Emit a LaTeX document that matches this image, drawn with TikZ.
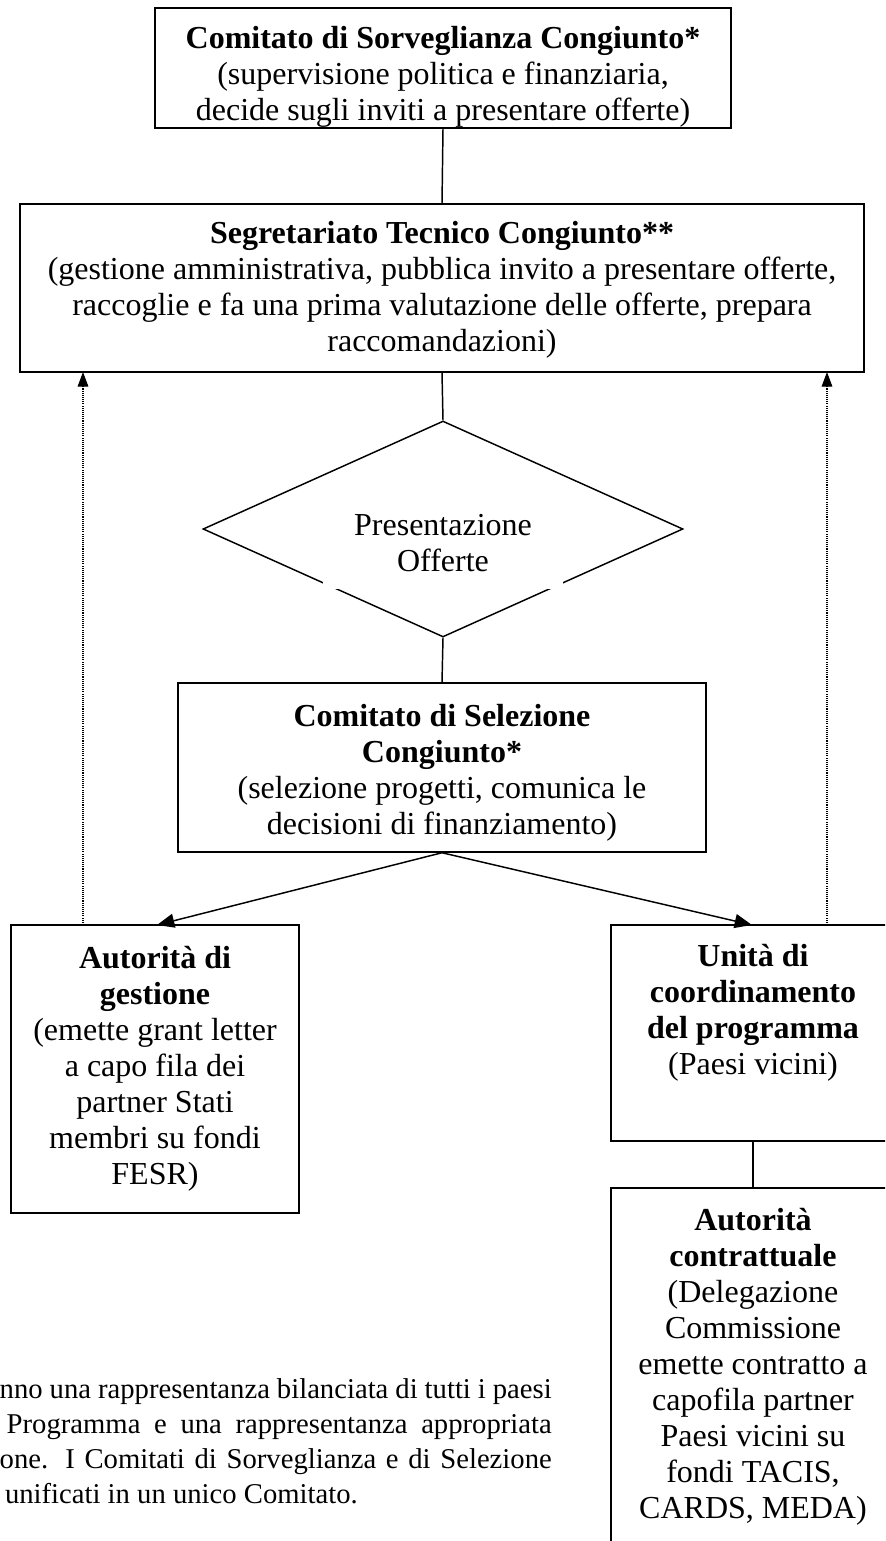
\documentclass[tikz,border=0pt]{standalone}
\usepackage{fontspec}
\setmainfont{Liberation Serif}
\usetikzlibrary{arrows.meta,shapes.geometric}
\begin{document}
\begin{tikzpicture}[x=0.75pt,y=-0.75pt,
  box/.style={draw,line width=1.1pt,rectangle,inner sep=0pt},
  lbl/.style={align=center,inner sep=0pt,font=\fontsize{24}{27}\selectfont},
  conn/.style={line width=1.1pt},
  arr/.style={conn,-{Triangle[length=13pt,width=10.5pt]}},
  dots/.style={line width=0.8pt,dash pattern=on 0.8pt off 0.8pt,-{Triangle[length=11pt,width=8pt]}}]
\useasboundingbox (0,0) rectangle (885,1541);
\clip (0,0) rectangle (885,1541);

% boxes
\node[box,minimum width=432pt,minimum height=90pt] (csc) at (443,68) {};
\node[lbl] (csct) at (443,77) {\textbf{Comitato di Sorveglianza Congiunto*}\\(supervisione politica e finanziaria,\\decide sugli inviti a presentare offerte)};

\node[box,minimum width=633pt,minimum height=126pt] (stc) at (442,288) {};
\node[lbl] (stct) at (442,290) {\textbf{Segretariato Tecnico Congiunto**}\\(gestione amministrativa, pubblica invito a presentare offerte,\\raccoglie e fa una prima valutazione delle offerte, prepara\\raccomandazioni)};

\node[draw,line width=1.1pt,diamond,shape aspect=2.2,minimum width=360pt,minimum height=162pt,inner sep=0pt] (po) at (443,529) {};
\node[lbl] (pot) at (443,543) {Presentazione\\Offerte};
\fill[white] (323,582) rectangle (563,589);

\node[box,minimum width=396pt,minimum height=126.75pt] (cse) at (442,767.5) {};
\node[lbl] (cset) at (442,773) {\textbf{Comitato di Selezione}\\\textbf{Congiunto*}\\(selezione progetti, comunica le\\decisioni di finanziamento)};

\node[box,minimum width=216pt,minimum height=216pt] (ag) at (155,1069) {};
\node[lbl] (agt) at (155,1069) {\textbf{Autorità di}\\\textbf{gestione}\\(emette grant letter\\a capo fila dei\\partner Stati\\membri su fondi\\FESR)};

\node[box,minimum width=213pt,minimum height=162pt] (ucp) at (753,1033) {};
\node[lbl] (ucpt) at (753,1013) {\textbf{Unità di}\\\textbf{coordinamento}\\\textbf{del programma}\\(Paesi vicini)};

\node[box,minimum width=213pt,minimum height=279pt] (ac) at (753,1374) {};
\node[lbl] (act) at (753,1367) {\textbf{Autorità}\\\textbf{contrattuale}\\(Delegazione\\Commissione\\emette contratto a\\capofila partner\\Paesi vicini su\\fondi TACIS,\\CARDS, MEDA)};

% connectors
\draw[conn] (csc.south) -- (stc.north);
\draw[conn] (stc.south) -- (po.north);
\draw[conn] (po.south) -- (cse.north);
\draw[arr] (cse.south) -- (157,925);
\draw[arr] (cse.south) -- (752,925);
\draw[conn] (ucp.south) -- (ac.north);
\draw[dots] (83,925) -- (83,372);
\draw[dots] (827,925) -- (827,372);

% footnote
\begin{scope}[every node/.style={lbl,anchor=base east,font=\fontsize{21.5}{26.25}\selectfont}]
\node (f1) at (552,1398) {\makebox[414pt][s]{nno una rappresentanza bilanciata di tutti i paesi}};
\node (f2) at (552,1433) {\makebox[408.75pt][s]{Programma e una rappresentanza appropriata}};
\node (f3) at (552,1468) {\makebox[414pt][s]{one. I Comitati di Sorveglianza e di Selezione}};
\node (f4) at (358,1503) {unificati in un unico Comitato.};
\end{scope}
\end{tikzpicture}
\end{document}
